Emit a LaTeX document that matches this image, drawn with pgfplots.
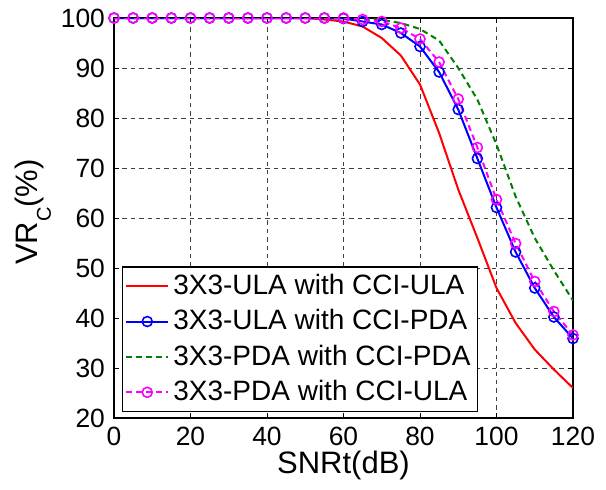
\documentclass[border=0pt]{standalone}
\usepackage{pgfplots}
\pgfplotsset{compat=1.18}
\usepackage{fontspec}
\setmainfont{Liberation Sans}
\definecolor{mgreen}{rgb}{0,0.5,0}
\definecolor{mmag}{rgb}{1,0,1}
\begin{document}
\fontsize{13}{15}\selectfont
\begin{tikzpicture}
\path (-57pt,-32.5pt) rectangle (246pt,209pt);
\begin{axis}[
  scale only axis, width=229.5pt, height=200pt,
  xmin=0, xmax=120, ymin=20, ymax=100,
  xtick={0,20,...,120}, ytick={20,30,...,100},
  /pgf/number format/assume math mode=true,
  tick align=inside, major tick length=2.5pt,
  tick style={black, line width=0.4pt},
  ticklabel style={font=\fontsize{13.2}{15}\selectfont},
  label style={font=\fontsize{15.5}{18}\selectfont},
  grid=major,
  major grid style={black!75, dash pattern=on 2.2pt off 2pt, line width=0.45pt},
  axis line style={black, line width=0.6pt},
  xlabel={SNRt(dB)},
  ylabel={VR\raisebox{-6.5pt}{\fontsize{10}{11}\selectfont C}(\%)},
  xlabel style={yshift=6pt},
  ylabel style={yshift=-4pt, xshift=3pt},
  legend style={at={(0.0166,0.015)}, anchor=south west, draw=black, line width=0.6pt,
    font=\fontsize{14}{16}\selectfont, inner sep=1.5pt, row sep=1.6pt, cells={anchor=west}},
  legend image code/.code={\draw[mark repeat=2,mark phase=2] plot coordinates {(0cm,0cm) (0.37cm,0cm) (0.74cm,0cm)};},
]
\addplot[red, line width=1pt] coordinates {
(0,100)(5,100)(10,100)(15,100)(20,100)(25,100)(30,100)(35,100)(40,100)(45,100)(50,100)
(55,99.7)(60,99.3)(65,98.3)(70,96.0)(75,92.5)(80,86.7)(85,77.0)(90,65.7)(95,56.0)
(100,46.0)(105,39.0)(110,33.7)(115,29.7)(120,26.0)};
\addlegendentry{3X3-ULA with CCI-ULA}
\addplot[blue, line width=1pt, mark=o, mark size=2.5pt, mark options={solid, line width=0.8pt}] coordinates {
(0,100)(5,100)(10,100)(15,100)(20,100)(25,100)(30,100)(35,100)(40,100)(45,100)(50,100)
(55,100)(60,99.9)(65,99.3)(70,98.7)(75,97.0)(80,94.3)(85,89.2)(90,81.7)(95,71.9)
(100,62.1)(105,53.2)(110,46.0)(115,40.2)(120,35.9)};
\addlegendentry{3X3-ULA with CCI-PDA}
\addplot[mgreen, line width=1pt, dash pattern=on 3pt off 2pt] coordinates {
(0,100)(5,100)(10,100)(15,100)(20,100)(25,100)(30,100)(35,100)(40,100)(45,100)(50,100)
(55,100)(60,100)(65,100)(70,99.6)(75,99.0)(80,97.8)(85,95.5)(90,90.0)(95,83.7)
(100,74.7)(105,64.3)(110,56.0)(115,49.5)(120,43.5)};
\addlegendentry{3X3-PDA with CCI-PDA}
\addplot[mmag, line width=1pt, dash pattern=on 3pt off 2pt, mark=o, mark size=2.5pt, mark options={solid, line width=0.8pt}] coordinates {
(0,100)(5,100)(10,100)(15,100)(20,100)(25,100)(30,100)(35,100)(40,100)(45,100)(50,100)
(55,100)(60,100)(65,99.7)(70,99.3)(75,98.0)(80,95.8)(85,91.2)(90,83.8)(95,74.1)
(100,63.7)(105,54.9)(110,47.3)(115,41.3)(120,36.6)};
\addlegendentry{3X3-PDA with CCI-ULA}
\end{axis}
\end{tikzpicture}
\end{document}
